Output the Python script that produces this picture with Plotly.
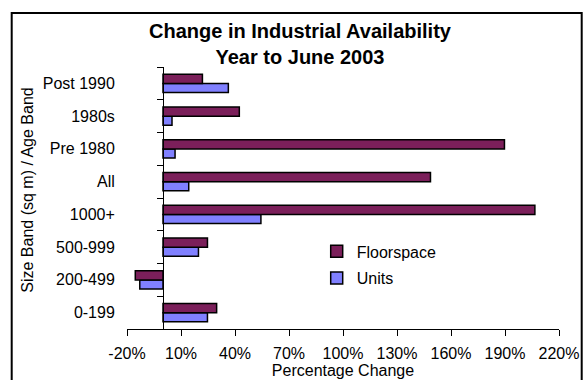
import plotly.graph_objects as go

categories = ["0-199", "200-499", "500-999", "1000+", "All", "Pre 1980", "1980s", "Post 1990"]
floorspace = [29.8, -15.4, 24.7, 206.6, 148.6, 189.7, 42.4, 21.9]
units = [24.7, -12.9, 19.7, 54.4, 14.3, 6.7, 5.0, 36.3]
x_ticks = [-20, 10, 40, 70, 100, 130, 160, 190, 220]
x_tick_labels = [f"{v}%" for v in x_ticks]

FONT = "Liberation Sans, Arial, sans-serif"
W, H = 584, 380
L, R, T, B = 127.3, 24.7, 66.7, 50.7
pw, ph = W - L - R, H - T - B

def px_x(p):
    return (p - L) / pw

def px_y(p):
    return (H - B - p) / ph

fig = go.Figure()
fig.add_trace(go.Bar(
    y=categories, x=units, orientation="h", name="Units",
    marker=dict(color="#8080FF", line=dict(color="black", width=1.5)),
    legendgroup="u", legendrank=2,
))
fig.add_trace(go.Bar(
    y=categories, x=floorspace, orientation="h", name="Floorspace",
    marker=dict(color="#7B1F5A", line=dict(color="black", width=1.5)),
    legendgroup="f", legendrank=1,
))

zero_pos = (0 - x_ticks[0]) / (x_ticks[-1] - x_ticks[0])

fig.update_layout(
    width=W, height=H,
    margin=dict(l=L, r=R, t=T, b=B, pad=0, autoexpand=False),
    paper_bgcolor="white", plot_bgcolor="white",
    barmode="group", bargap=0.44, bargroupgap=0,
    font=dict(family=FONT, size=16, color="black"),
    title=dict(
        text="<b>Change in Industrial Availability<br>Year to June 2003</b>",
        x=300 / W, xanchor="center", xref="container",
        y=1 - 38 / H, yanchor="top", yref="container",
        font=dict(family=FONT, size=20, color="black"),
    ),
    xaxis=dict(
        range=[x_ticks[0], x_ticks[-1]],
        tickvals=x_ticks, ticktext=x_tick_labels,
        showgrid=False, zeroline=False, automargin=False,
        showline=True, linecolor="black", linewidth=1,
        ticks="outside", ticklen=6, tickcolor="black", tickwidth=1,
        ticklabelstandoff=4,
        title=dict(text="Percentage Change", standoff=0, font=dict(size=16)),
        tickfont=dict(size=16),
    ),
    yaxis=dict(
        type="category", categoryorder="array", categoryarray=categories,
        range=[-0.5, len(categories) - 0.5],
        anchor="free", position=zero_pos, automargin=False,
        showgrid=False, zeroline=False,
        showline=True, linecolor="black", linewidth=1,
        ticks="outside", ticklen=6, tickcolor="black", tickwidth=1,
        tickson="boundaries",
        ticklabelstandoff=45,
        tickfont=dict(size=16),
    ),
    legend=dict(
        x=px_x(317), y=px_y(234.5), xanchor="left", yanchor="top",
        traceorder="grouped", tracegroupgap=3, itemwidth=30,
        font=dict(size=16), bgcolor="rgba(0,0,0,0)", borderwidth=0,
    ),
    showlegend=True,
)

fig.add_annotation(
    text="Size Band (sq m) / Age Band", textangle=-90,
    xref="paper", yref="paper", x=px_x(27), y=px_y(190),
    xanchor="center", yanchor="middle", showarrow=False,
    font=dict(size=16, family=FONT, color="black"),
)

fig.add_shape(
    type="rect", xref="paper", yref="paper",
    x0=px_x(12), x1=px_x(582), y0=px_y(400), y1=px_y(12.7),
    line=dict(color="black", width=2), fillcolor="rgba(0,0,0,0)", layer="above",
)

fig.write_html("out.html")
